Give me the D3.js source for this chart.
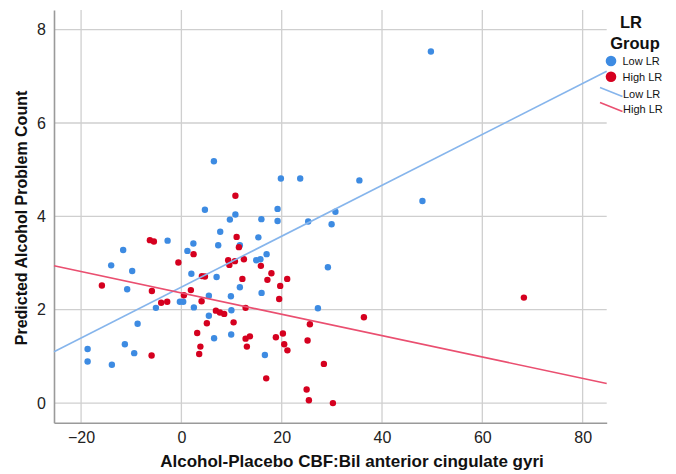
<!DOCTYPE html>
<html><head><meta charset="utf-8">
<script src="https://cdn.jsdelivr.net/npm/d3@7"></script>
<style>
body{margin:0;background:#fff;}
text{font-family:"Liberation Sans",Arial,Helvetica,sans-serif;}
</style>
</head><body>
<svg id="chart" width="676" height="474"></svg>
<script>
// ---- data ----
const lowX = [49.75,6.48,19.84,23.69,35.49,48.06,4.69,19.18,30.71,10.77,9.67,15.95,19.18,25.28,29.95,7.74,15.35,2.39,-2.75,7.34,11.66,-11.61,1.20,16.99,14.92,15.75,-14.0,29.21,-9.81,1.99,7.02,11.66,-10.81,15.99,5.48,9.87,-0.30,0.36,-5.08,2.49,27.22,9.97,5.48,-8.73,6.52,9.93,-11.27,-18.70,-9.41,16.65,-18.70,-13.86];
const lowY = [7.53,5.18,4.81,4.81,4.77,4.33,4.14,4.16,4.10,4.04,3.93,3.94,3.90,3.89,3.83,3.67,3.55,3.42,3.48,3.38,3.38,3.28,3.26,3.19,3.06,3.08,2.95,2.91,2.83,2.77,2.70,2.48,2.44,2.36,2.30,2.29,2.17,2.17,2.04,2.05,2.03,1.99,1.87,1.70,1.39,1.47,1.26,1.16,1.07,1.03,0.89,0.82];
const highX = [10.77,-6.28,-5.48,11.01,11.47,2.43,-0.60,9.33,9.57,10.67,12.46,15.85,17.95,4.09,4.69,12.16,17.15,21.10,19.70,-15.85,-5.88,1.89,0.50,19.50,-4.03,-2.83,4.03,6.88,7.68,8.53,12.80,25.62,36.39,68.29,5.08,10.41,3.15,12.80,13.66,13.06,18.84,20.24,20.50,21.14,25.16,3.79,3.55,-5.94,28.41,16.91,24.97,25.42,30.21];
const highY = [4.44,3.49,3.46,3.56,3.34,3.19,3.01,3.06,2.96,3.04,3.08,2.94,2.78,2.72,2.71,2.66,2.64,2.66,2.51,2.52,2.40,2.42,2.31,2.23,2.15,2.17,2.18,1.98,1.94,1.91,2.04,1.69,1.84,2.26,1.71,1.73,1.50,1.38,1.43,1.21,1.41,1.49,1.26,1.13,1.34,1.21,1.05,1.02,0.84,0.53,0.29,0.06,0.00];
const groups = ["Low LR","High LR"];
const fitIntercept = [2.485, 2.359];
const fitSlope = [0.0545, -0.02287];
const xTicks = [-20,0,20,40,60,80];
const yTicks = [0,2,4,6,8];
const xLabel = "Alcohol-Placebo CBF:Bil anterior cingulate gyri";
const yLabel = "Predicted Alcohol Problem Count";
const legendTitle = ["LR","Group"];

// ---- styles ----
const ptColor = ["#3d8be2","#d5001f"];
const lnColor = ["#86b5ec","#ea4f70"];

const svg = d3.select("#chart");
const x = d3.scaleLinear().domain([-25.4, 84.8]).range([54, 606.7]);
const y = d3.scaleLinear().domain([-0.42, 8.42]).range([422.7, 10]);

// gridlines
const grid = svg.append("g");
grid.selectAll(".vg").data(xTicks).join("line")
  .attr("x1", d=>x(d)).attr("x2", d=>x(d))
  .attr("y1", y.range()[1]).attr("y2", y.range()[0])
  .attr("stroke","#cfcfcf").attr("stroke-width",1.3);
grid.selectAll(".hg").data(yTicks).join("line")
  .attr("x1", x.range()[0]).attr("x2", x.range()[1])
  .attr("y1", d=>y(d)).attr("y2", d=>y(d))
  .attr("stroke","#cfcfcf").attr("stroke-width",1.3);

// axes
const xa = svg.append("g").attr("transform",`translate(0,${y.range()[0]})`)
  .call(d3.axisBottom(x).tickValues(xTicks).tickSize(0).tickPadding(9).tickFormat(d3.format("d")));
const ya = svg.append("g").attr("transform",`translate(${x.range()[0]},0)`)
  .call(d3.axisLeft(y).tickValues(yTicks).tickSize(0).tickPadding(8).tickFormat(d3.format("d")));
[xa,ya].forEach(a=>{
  a.select(".domain").attr("stroke","#9a9a9a").attr("stroke-width",1.6);
  a.selectAll("text").attr("font-size","16px").attr("fill","#222")
   .attr("font-family","'Liberation Sans',Arial,sans-serif");
});

// points
const series = [d3.zip(lowX, lowY), d3.zip(highX, highY)];
series.forEach((s,i)=>{
  svg.append("g").selectAll("circle").data(s).join("circle")
    .attr("cx", d=>x(d[0])).attr("cy", d=>y(d[1])).attr("r",3.2)
    .attr("fill", ptColor[i]);
});

// fit lines
const xd = x.domain();
fitIntercept.forEach((b,i)=>{
  svg.append("line")
    .attr("x1", x(xd[0])).attr("y1", y(b+fitSlope[i]*xd[0]))
    .attr("x2", x(xd[1])).attr("y2", y(b+fitSlope[i]*xd[1]))
    .attr("stroke", lnColor[i]).attr("stroke-width",1.6);
});

// axis titles
svg.append("text").attr("x",352).attr("y",467).attr("text-anchor","middle")
  .attr("font-size","17px").attr("font-weight","bold").attr("fill","#111").text(xLabel);
svg.append("text").attr("transform","translate(27,218) rotate(-90)").attr("text-anchor","middle")
  .attr("font-size","16px").attr("font-weight","bold").attr("fill","#111").text(yLabel);

// legend
const lg = svg.append("g");
lg.append("text").attr("x",631).attr("y",28).attr("text-anchor","middle")
  .attr("font-size","16.5px").attr("font-weight","bold").attr("fill","#111").text(legendTitle[0]);
lg.append("text").attr("x",635).attr("y",49).attr("text-anchor","middle")
  .attr("font-size","16.5px").attr("font-weight","bold").attr("fill","#111").text(legendTitle[1]);
groups.forEach((g,i)=>{
  lg.append("circle").attr("cx",611).attr("cy",61+i*15.7).attr("r",5.3).attr("fill",ptColor[i]);
  lg.append("text").attr("x",622.5).attr("y",65+i*15.7).attr("font-size","11px").attr("fill","#111").text(g);
});
groups.forEach((g,i)=>{
  const yy = 87.5+i*15;
  lg.append("line").attr("x1",600).attr("y1",yy).attr("x2",622.5).attr("y2",yy+9)
    .attr("stroke",lnColor[i]).attr("stroke-width",1.5);
  lg.append("text").attr("x",623).attr("y",yy+10).attr("font-size","11px").attr("fill","#111").text(g);
});
</script>
</body></html>
